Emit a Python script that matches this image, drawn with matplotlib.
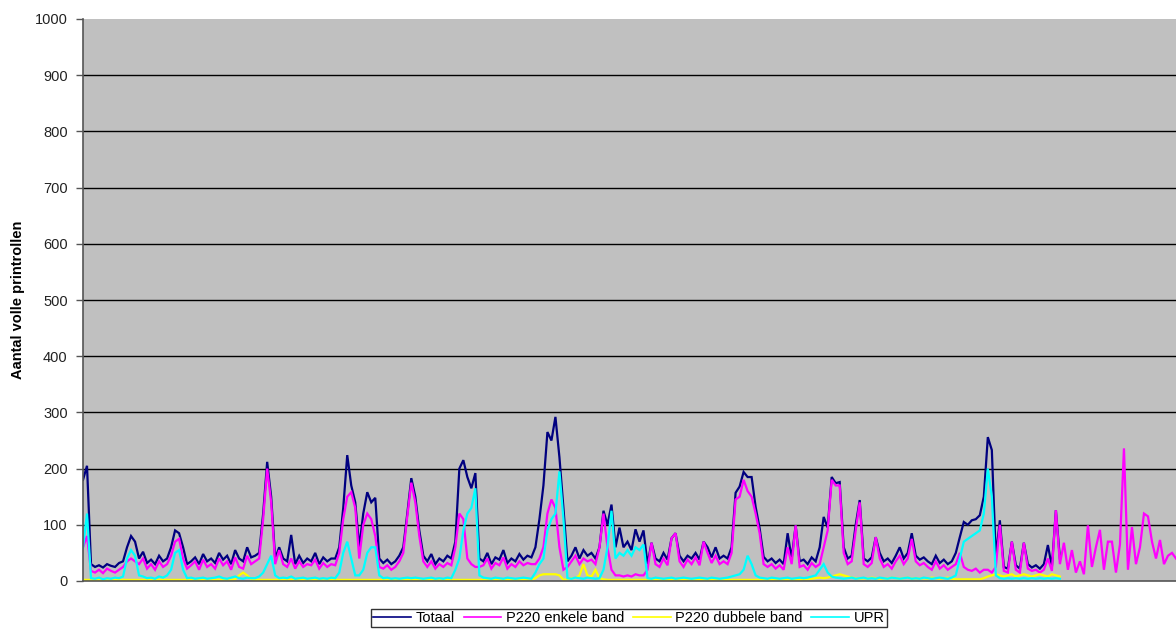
import numpy as np
import matplotlib
matplotlib.use("Agg")
import matplotlib.pyplot as plt

nan = float("nan")

series_names = ["Totaal", "P220 enkele band", "P220 dubbele band", "UPR"]
y_ticks = [0, 100, 200, 300, 400, 500, 600, 700, 800, 900, 1000]
y_label = "Aantal volle printrollen"

totaal = [
    180, 205, 30, 25, 28, 24, 30, 27, 25, 32,
    35, 60, 80, 70, 40, 52, 32, 38, 30, 45,
    35, 40, 60, 90, 85, 60, 30, 35, 42, 30,
    48, 35, 40, 32, 50, 38, 45, 30, 55, 40,
    35, 60, 42, 45, 50, 120, 212, 150, 40, 60,
    40, 35, 82, 30, 45, 32, 40, 35, 50, 30,
    42, 35, 40, 40, 60, 130, 224, 170, 140, 60,
    120, 158, 140, 148, 40, 32, 38, 30, 35, 45,
    60, 120, 183, 150, 90, 45, 35, 48, 30, 40,
    35, 45, 40, 70, 200, 215, 185, 165, 192, 40,
    35, 50, 30, 42, 38, 55, 32, 40, 35, 48,
    38, 45, 42, 60, 110, 170, 265, 250, 292, 220,
    130, 35, 45, 60, 40, 55, 45, 50, 40, 60,
    125, 100, 136, 60, 95, 60, 70, 55, 92, 70,
    90, 30, 68, 40, 35, 50, 38, 76, 85, 45,
    35, 45, 40, 50, 38, 70, 60, 42, 60, 40,
    45, 40, 60, 157, 168, 194, 185, 185, 132, 94,
    43, 35, 40, 32, 38, 30, 85, 40, 99, 35,
    38, 30, 42, 35, 60, 114, 95, 185, 174, 176,
    60, 40, 45, 100, 144, 40, 35, 42, 78, 50,
    35, 40, 32, 45, 60, 40, 50, 85, 45, 38,
    42, 35, 30, 45, 32, 38, 30, 35, 50, 78,
    105, 100, 108, 110, 117, 150, 256, 233, 43, 108,
    25, 22, 70, 28, 22, 68, 30, 24, 28, 22,
    30, 64, 25, 126, 40, nan, nan, nan, nan, nan,
    nan, nan, nan, nan, nan, nan, nan, nan, nan, nan,
    nan, nan, nan, nan, nan, nan, nan, nan, nan, nan,
    nan, nan, nan, nan,
]

p220_enkele = [
    60, 80, 18, 15, 20, 14, 22, 18, 15, 20,
    25, 35, 40, 35, 30, 40, 22, 30, 20, 35,
    25, 30, 45, 70, 75, 40, 22, 28, 35, 20,
    38, 25, 30, 22, 40, 28, 35, 20, 42, 25,
    22, 45, 30, 35, 40, 110, 200, 140, 30, 55,
    30, 25, 40, 22, 35, 25, 30, 28, 38, 22,
    32, 25, 30, 28, 50, 110, 150, 158, 130, 40,
    100, 120, 110, 80, 25, 22, 28, 20, 25, 35,
    50, 115, 175, 140, 80, 35, 25, 35, 22, 30,
    25, 32, 28, 60, 120, 110, 40, 30, 25, 25,
    28, 40, 22, 32, 28, 42, 22, 30, 25, 35,
    28, 32, 30, 30, 40, 60, 120, 145, 130, 60,
    20, 25, 35, 45, 30, 40, 35, 38, 30, 60,
    120, 60, 20, 10, 10, 8, 10, 8, 12, 10,
    10, 20, 68, 30, 25, 40, 28, 76, 85, 35,
    25, 38, 30, 42, 28, 70, 50, 32, 45, 30,
    35, 30, 50, 145, 150, 180, 160, 150, 120, 85,
    30, 25, 30, 22, 28, 20, 60, 30, 99, 25,
    28, 20, 32, 25, 30, 60, 90, 180, 170, 170,
    50, 30, 35, 90, 140, 30, 25, 32, 78, 40,
    25, 30, 22, 35, 45, 30, 40, 75, 35, 28,
    32, 25, 20, 35, 22, 28, 20, 25, 30, 50,
    25, 20, 18, 22, 15, 20, 20, 15, 25, 100,
    18, 15, 70, 20, 15, 68, 22, 18, 20, 15,
    20, 40, 18, 126, 30, 68, 20, 55, 15, 35,
    12, 99, 25, 60, 91, 20, 70, 70, 15, 65,
    236, 20, 96, 30, 60, 120, 115, 70, 40, 73,
    30, 45, 50, 40,
]

p220_dubbele = [
    2, 2, 2, 2, 2, 2, 2, 2, 2, 2,
    2, 2, 2, 2, 2, 2, 2, 2, 2, 2,
    2, 2, 2, 2, 2, 2, 2, 2, 2, 2,
    2, 2, 2, 2, 2, 2, 2, 2, 3, 10,
    15, 10, 3, 2, 2, 2, 2, 2, 2, 2,
    2, 2, 2, 2, 2, 2, 2, 2, 2, 2,
    2, 2, 2, 2, 2, 2, 2, 2, 2, 2,
    2, 2, 2, 2, 2, 2, 2, 2, 2, 2,
    2, 2, 2, 2, 2, 2, 2, 2, 2, 2,
    2, 2, 2, 2, 2, 2, 2, 2, 2, 2,
    2, 2, 2, 2, 2, 2, 2, 2, 2, 2,
    2, 2, 2, 5, 10, 12, 12, 12, 12, 10,
    2, 3, 5, 5, 10, 30, 10, 8, 20, 5,
    3, 2, 2, 2, 2, 2, 2, 2, 2, 2,
    2, 2, 2, 2, 2, 2, 2, 2, 2, 2,
    2, 2, 2, 2, 2, 2, 2, 2, 2, 2,
    2, 2, 2, 2, 2, 2, 2, 2, 2, 2,
    2, 2, 2, 2, 2, 2, 2, 2, 2, 2,
    3, 3, 4, 5, 6, 5, 6, 8, 10, 12,
    10, 8, 6, 5, 4, 5, 4, 6, 5, 4,
    5, 4, 6, 5, 4, 5, 6, 4, 5, 4,
    5, 4, 6, 5, 4, 5, 6, 4, 3, 3,
    3, 3, 3, 3, 3, 5, 8, 10, 12, 10,
    8, 10, 12, 8, 10, 12, 10, 8, 10, 12,
    10, 8, 12, 10, 8, nan, nan, nan, nan, nan,
    nan, nan, nan, nan, nan, nan, nan, nan, nan, nan,
    nan, nan, nan, nan, nan, nan, nan, nan, nan, nan,
    nan, nan, nan, nan,
]

upr = [
    60, 120, 5, 4, 6, 3, 5, 4, 6, 5,
    8, 40, 55, 45, 10, 8, 5, 6, 4, 8,
    6, 10, 20, 50, 55, 20, 5, 6, 4, 5,
    6, 4, 5, 6, 8, 5, 4, 6, 8, 5,
    4, 6, 5, 5, 8, 15, 30, 45, 10, 5,
    6, 5, 8, 4, 5, 6, 4, 5, 6, 4,
    5, 4, 6, 5, 15, 50, 70, 40, 10, 10,
    20, 50, 60, 60, 10, 5, 6, 4, 5, 4,
    5, 6, 5, 6, 5, 4, 5, 6, 4, 5,
    4, 6, 5, 20, 40, 90, 120, 130, 165, 10,
    6, 5, 4, 6, 5, 4, 6, 5, 4, 5,
    6, 5, 4, 15, 30, 40, 90, 110, 120, 195,
    110, 5, 4, 6, 5, 4, 6, 5, 4, 5,
    20, 60, 125, 40, 50, 45, 55, 45, 60, 55,
    65, 5, 4, 6, 5, 4, 5, 6, 4, 5,
    6, 5, 4, 5, 6, 5, 4, 6, 5, 4,
    5, 6, 8, 10, 12, 20, 45, 30, 10, 6,
    5, 4, 6, 5, 4, 5, 6, 4, 5, 6,
    5, 6, 8, 10, 20, 30, 15, 8, 6, 5,
    4, 5, 6, 4, 5, 6, 4, 5, 4, 6,
    5, 4, 6, 5, 4, 5, 6, 4, 5, 4,
    6, 5, 4, 5, 6, 5, 4, 6, 10, 40,
    70, 75, 80, 85, 90, 120, 200, 150, 10, 5,
    4, 5, 4, 5, 4, 5, 4, 5, 4, 5,
    4, 5, 4, 5, 4, nan, nan, nan, nan, nan,
    nan, nan, nan, nan, nan, nan, nan, nan, nan, nan,
    nan, nan, nan, nan, nan, nan, nan, nan, nan, nan,
    nan, nan, nan, nan,
]

colors = ["#000080", "#FF00FF", "#FFFF00", "#00FFFF"]

plt.rcParams["font.family"] = ["Liberation Sans", "DejaVu Sans"]

fig = plt.figure(figsize=(11.76, 6.33), dpi=100)
ax = fig.add_axes([83 / 1176, 52 / 633, 1 - 83 / 1176, 562 / 633])
ax.set_facecolor("#C0C0C0")

x = np.arange(len(totaal))
data = [totaal, p220_enkele, p220_dubbele, upr]
for name, vals, c in zip(series_names, data, colors):
    ax.plot(x, vals, color=c, lw=1.6, label=name, solid_joinstyle="miter")

for t in y_ticks[1:-1]:
    ax.axhline(t, color="black", lw=1.0, zorder=0.5)

ax.set_xlim(0, len(totaal) - 1)
ax.set_ylim(0, 1000)
ax.set_yticks(y_ticks)
ax.set_yticklabels([str(t) for t in y_ticks], fontsize=10.5, color="#222222")
ax.tick_params(axis="y", direction="out", length=5, width=1, color="#555555", pad=6)
ax.set_xticks([])
for s in ["top", "right"]:
    ax.spines[s].set_visible(False)
ax.spines["left"].set_color("#555555")
ax.spines["bottom"].set_color("#555555")
ax.spines["left"].set_linewidth(1.2)
ax.spines["bottom"].set_linewidth(1.2)

fig.text(18 / 1176, 1 - 300 / 633, y_label, rotation=90, fontsize=10.5,
         fontweight="bold", ha="center", va="center")

leg = fig.legend(loc="upper center", bbox_to_anchor=(629 / 1176, 1 - 609 / 633),
                 ncol=4, fontsize=10.5, frameon=True, fancybox=False,
                 handlelength=2.6, handletextpad=0.3, columnspacing=0.6,
                 borderpad=0.15, borderaxespad=0.0, edgecolor="black")
leg.get_frame().set_linewidth(1.0)
for h in leg.get_lines():
    h.set_linewidth(1.2)

fig.savefig("out.png", dpi=100)
